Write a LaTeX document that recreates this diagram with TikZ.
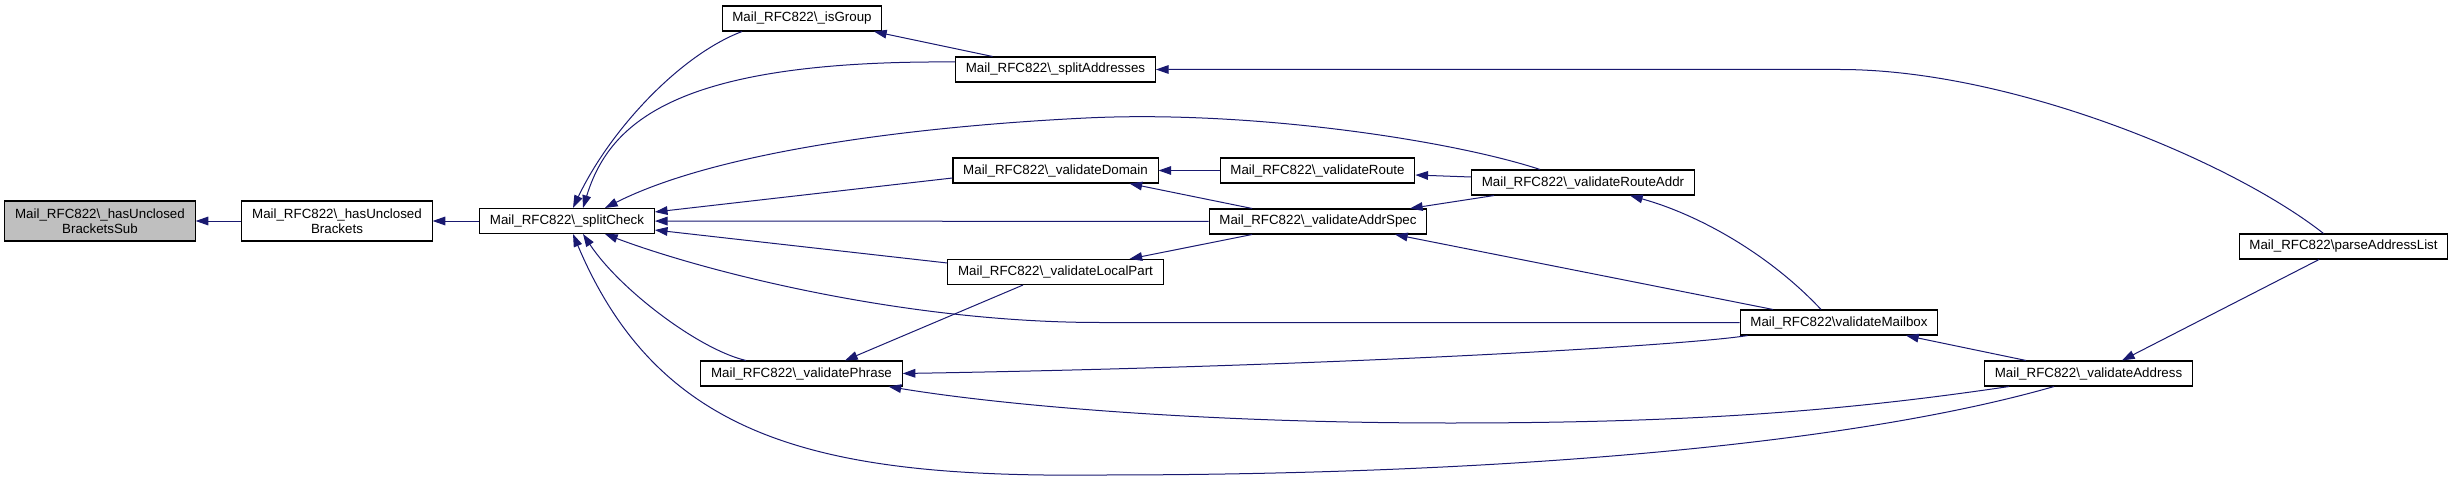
\documentclass[tikz,border=0pt]{standalone}
\usepackage{fontspec}
\setmainfont{Liberation Sans}
\usetikzlibrary{arrows.meta,calc}
\definecolor{edgeblue}{RGB}{25,25,112}
\begin{document}
\begin{tikzpicture}[x=0.75pt, y=-0.75pt,
  every node/.style = {shape=rectangle, draw, align=center, line width=0.8pt,
    font=\fontsize{10}{11.5}\selectfont, inner xsep=7.7pt, inner ysep=0pt, minimum height=18.75pt},
  twoline/.style = {minimum height=30pt},
  current/.style = {twoline, fill=black!25},
  caller/.style = {draw=edgeblue, line width=0.75pt, -{Triangle[length=9.5pt, width=6.5pt]}}]
  \useasboundingbox (0,0) rectangle (2452,481);
  \node[current] (sub) at (100,221) {Mail\_RFC822\textbackslash\_hasUnclosed\\BracketsSub};
  \node[twoline] (hub) at (337,221) {Mail\_RFC822\textbackslash\_hasUnclosed\\Brackets};
  \node (split) at (567,221) {Mail\_RFC822\textbackslash\_splitCheck};
  \node (isgrp) at (802,18.5) {Mail\_RFC822\textbackslash\_isGroup};
  \node (splitaddr) at (1055.5,69.5) {Mail\_RFC822\textbackslash\_splitAddresses};
  \node (vdom) at (1055.5,170.5) {Mail\_RFC822\textbackslash\_validateDomain};
  \node (vlocal) at (1055.5,272) {Mail\_RFC822\textbackslash\_validateLocalPart};
  \node (vphrase) at (801.5,373.5) {Mail\_RFC822\textbackslash\_validatePhrase};
  \node (vroute) at (1317.5,170.5) {Mail\_RFC822\textbackslash\_validateRoute};
  \node (vaddrspec) at (1318,221.5) {Mail\_RFC822\textbackslash\_validateAddrSpec};
  \node (vrouteaddr) at (1583,182.5) {Mail\_RFC822\textbackslash\_validateRouteAddr};
  \node (vmailbox) at (1839,322.5) {Mail\_RFC822\textbackslash validateMailbox};
  \node (vaddress) at (2088.5,373.5) {Mail\_RFC822\textbackslash\_validateAddress};
  \node (parse) at (2343.5,246.5) {Mail\_RFC822\textbackslash parseAddressList};
  \draw[caller] (hub) -- (sub);
  \draw[caller] (split) -- (hub);
  \draw[caller] ($(isgrp.south)+(-60,0)$) .. controls (680,55) and (610,130) .. ($(split.north)+(6,0)$);
  \draw[caller] ($(splitaddr.west)+(0,-7.5)$) .. controls (680,60) and (610,120) .. ($(split.north)+(16,0)$);
  \draw[caller] ($(splitaddr.north)+(-63,0)$) -- ($(isgrp.south)+(72,0)$);
  \draw[caller] ($(parse.north)+(-20,0)$) .. controls (2230,160) and (2010,69.5) .. (1840,69.5) -- (splitaddr.east);
  \draw[caller] ($(vrouteaddr.north)+(-43,0)$) .. controls (1450,140) and (1250,110) .. (1086,118)
    .. controls (922,126) and (720,150) .. ($(split.north)+(38,0)$);
  \draw[caller] ($(vdom.west)+(0,7.5)$) -- ($(split.east)+(0,-9)$);
  \draw[caller] (vroute) -- (vdom);
  \draw[caller] ($(vaddrspec.north)+(-66,0)$) -- ($(vdom.south)+(74,0)$);
  \draw[caller] ($(vrouteaddr.west)+(0,-5.5)$) -- ($(vroute.east)+(0,4.5)$);
  \draw[caller] ($(vrouteaddr.south)+(-89,0)$) -- ($(vaddrspec.north)+(92,0)$);
  \draw[caller] (vaddrspec) -- (split);
  \draw[caller] ($(vlocal.west)+(0,-9)$) -- ($(split.east)+(0,9)$);
  \draw[caller] ($(vaddrspec.south)+(-66,0)$) -- ($(vlocal.north)+(74,0)$);
  \draw[caller] (vmailbox.west) -- (1100,322.5) .. controls (900,322.5) and (700,270) .. ($(split.south)+(38,0)$);
  \draw[caller] ($(vphrase.north)+(-55.5,0)$) .. controls (700,350) and (620,290) .. ($(split.south)+(16,0)$);
  \draw[caller] ($(vlocal.south)+(-32.5,0)$) -- ($(vphrase.north)+(43.5,0)$);
  \draw[caller] ($(vmailbox.south west)+(8,0)$) .. controls (1690,345) and (1350,366) .. (vphrase.east);
  \draw[caller] ($(vaddress.south)+(-79.5,0)$) .. controls (1850,410) and (1700,423) .. (1450,423)
    .. controls (1200,423) and (1000,405) .. ($(vphrase.south)+(87,0)$);
  \draw[caller] ($(vaddress.south)+(-34.5,0)$) .. controls (1850,445) and (1500,475) .. (1100,475)
    .. controls (820,478) and (660,440) .. ($(split.south)+(6,0)$);
  \draw[caller] ($(vmailbox.north)+(-66,0)$) -- ($(vaddrspec.south)+(77,0)$);
  \draw[caller] ($(vmailbox.north)+(-18,0)$) .. controls (1770,255) and (1700,215) .. ($(vrouteaddr.south)+(47,0)$);
  \draw[caller] ($(vaddress.north)+(-62.5,0)$) -- ($(vmailbox.south)+(67,0)$);
  \draw[caller] ($(parse.south)+(-24.5,0)$) -- ($(vaddress.north)+(33.5,0)$);
\end{tikzpicture}
\end{document}
